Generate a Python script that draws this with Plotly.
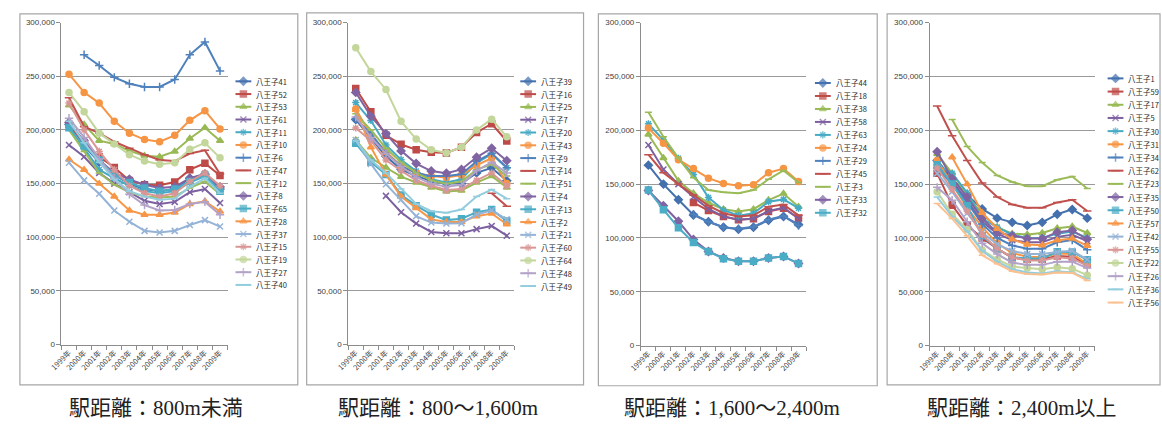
import plotly.graph_objects as go

# ---------------------------------------------------------------------------
# Data: values in thousand yen, years 1999-2009 (None = no value that year)
# ---------------------------------------------------------------------------
years = ["1999年", "2000年", "2001年", "2002年", "2003年", "2004年",
         "2005年", "2006年", "2007年", "2008年", "2009年"]

# 駅距離：800m未満
s41 = [205, 185, 170, 158, 150, 145, 143, 145, 155, 158, 145]
s52 = [205, 188, 175, 165, 153, 149, 148.5, 151.5, 163, 169, 157.5]
s53 = [223, 205, 190, 187, 180.5, 176, 175, 180, 192, 202, 190]
s61 = [186, 175, 160, 150, 142, 134, 131, 133, 142, 145, 132]
s11 = [203, 183, 163, 155, 148, 143, 141, 143, 151, 157, 143]
s10 = [252, 235, 225, 208, 197, 191, 189, 195, 209, 218, 201]
s6 = [None, 270, 260, 249, 243, 240, 240, 247, 270, 282, 255]
s47 = [230, 203, 197, 189, 183, 177, 172, 171, 178, 181, 159]
s12 = [200, 180, 160, 149, 142, 138, 137, 138, 146, 152, 140]
s8 = [207, 190, 172, 160, 154, 149, 146, 147, 155, 159, 147]
s65 = [202, 185, 172, 158, 151, 146, 143, 145, 152, 158, 143]
s28 = [172.5, 163, 150, 138, 125, 121, 121, 123, 131, 133.5, 124]
s37 = [169.5, 153, 140.5, 125, 114.5, 106, 104.5, 106, 111.5, 116, 110]
s15 = [225, 200, 180, 163, 148, 141, 138, 141, 152, 160, 148]
s19 = [235, 217, 197, 187, 177, 171, 168, 169.5, 182, 188, 174]
s27 = [211, 193, 173, 155, 140, 130, 125, 125.5, 131, 133, 121]
s40 = [208, 188, 170, 154, 143, 138, 135, 136, 147, 155, 141]

# 駅距離：800～1,600m
s39 = [209.7, 192, 175.4, 163.2, 157, 152.6, 150, 150, 160, 164.7, 152.6]
s16 = [238.6, 217, 195, 186.6, 181.5, 179.3, 178.5, 184, 197.6, 205.8, 189.7]
s25 = [190.6, 174, 165, 156.5, 151, 146.5, 142.6, 143.5, 151, 157, 146.5]
s7 = [None, None, 138.6, 123.4, 112.8, 105, 103.7, 103.7, 107.6, 110.6, 101.5]
s20 = [225.5, 208.8, 186, 172.3, 161.7, 154, 151, 154, 169.3, 177.5, 164.7]
s43 = [219.5, 195, 180, 166.3, 160, 157, 155.6, 158, 167, 173.8, 150]
s9 = [210.3, 196.6, 178.4, 166.3, 160, 157, 157, 158.7, 170.8, 178.4, 164.7]
s14 = [None, None, None, None, None, None, None, None, None, 141, 129]
s51 = [215, 200, 183, 170, 160, 153, 150, 152, 163, 168, 157]
s4 = [235, 212.8, 196.6, 180.5, 168.7, 161.7, 159.6, 163.2, 174.5, 183, 171.4]
s13 = [187.5, 170, 158.6, 139.5, 129.5, 121.3, 116, 117.3, 123.4, 125.8, 115.2]
s2 = [218.8, 184, 158.6, 138, 127.4, 116.7, 114.3, 114.3, 119.7, 122.2, 112.2]
s21 = [190.6, 168.4, 149.5, 135, 119.7, 113.7, 112.8, 113, 121.3, 125.2, 116.7]
s60 = [201.8, 190, 172, 162, 153, 148, 144, 145, 153, 160, 148]
s64 = [276.6, 254.4, 237.7, 208, 191.5, 181.5, 178.5, 184, 200, 210, 193.6]
s48 = [212, 193, 178, 166, 156, 150, 147, 149, 162, 170, 160]
s49 = [190, 172, 160, 145, 131, 124.3, 122.8, 125.8, 138, 144.5, 136]

# 駅距離：1,600～2,400m
s44 = [167.6, 150, 135.5, 121.3, 115, 110, 108, 110, 116.4, 120, 112.5]
s18 = [None, None, None, 132.9, 125.4, 120, 117, 117.9, 124.6, 127.6, 118.5]
s38 = [196, 174.2, 153, 141.5, 132.7, 126.7, 124.6, 126.7, 135.2, 141.2, 129]
s58 = [186.4, 163.6, 150, 138, 127, 120, 117, 118, 125, 128, 118]
s63 = [206, 191, 174, 159, 137.6, 126, 120.7, 123, 133.6, 135.8, 127.6]
s24 = [202, 188, 172.7, 164.5, 155.5, 150.6, 148.5, 149.4, 160.6, 164.5, 152.4]
s29 = [None, None, None, 122, 115, 110, 108.5, 110.5, 117, 120.5, 111.5]
s45 = [177.3, 160.6, 150, 140, 130, 123, 120, 121, 129, 131, 121]
s3 = [216.7, 194, 174.2, 156, 144.5, 142.4, 141.5, 144.5, 154.5, 162.7, 151.5]
s33 = [144, 130, 115.5, 98.5, 87.4, 81.4, 78.4, 78.4, 81.4, 82.8, 76.2]
s32 = [144.5, 126.2, 109.5, 95.8, 87.4, 80.8, 78.4, 78.4, 81.4, 82.8, 76.2]

# 駅距離：2,400m以上
s1 = [172, 155, 140, 127, 118.4, 114.5, 111.5, 114.5, 122, 126.5, 118.4]
s59 = [160, 130.3, 111.5, 100, 90, 81.5, 80.3, 80.3, 83.2, 82.6, 75.7]
s17 = [178, 160, 140, 122, 110, 104, 103.3, 104.6, 109, 110.6, 104.6]
s5 = [170, 152, 135, 115, 104, 98, 96, 96, 101, 103, 97]
s30 = [168, 160, 142, 118, 110, 103, 100, 100, 104, 106, 100]
s31 = [172, 150, 128, 110, 95, 86, 82.6, 82, 85.6, 85, 76]
s34 = [165, 150, 133, 113, 100, 93, 90, 90, 96, 98, 89]
s62 = [222.5, 195, 172, 151, 138, 131, 128, 128, 133, 135.5, 125]
s23 = [None, 210, 185, 170, 158, 152, 148, 148, 154, 157, 146]
s35 = [180, 155, 138, 118, 105, 102, 99.4, 99.4, 105.4, 107, 98.8]
s50 = [168, 150, 130, 102, 90, 82, 81, 81, 87.2, 87, 79.7]
s57 = [None, 175, 150, 123.4, 108.5, 98.8, 93.9, 93.3, 97.9, 99.4, 92.7]
s42 = [160, 143, 123, 105, 94, 88, 85, 85, 87, 88, 80]
s55 = [165, 145, 125, 103, 90, 82, 79, 79, 82, 81, 74]
s22 = [143, 122, 108, 88.7, 80, 73.5, 72, 71, 72.7, 71.5, 65.4]
s26 = [147, 135, 115, 95, 85, 77, 75, 75, 78, 78, 72]
s36 = [138, 120, 106, 88, 78, 71, 68, 67, 69, 68, 62]
s56 = [132, 118, 102, 84, 76, 69, 66.5, 66, 68, 67.5, 60.5]

panel_titles = ["駅距離：800m未満", "駅距離：800～1,600m",
                "駅距離：1,600～2,400m", "駅距離：2,400m以上"]

panel_series = [
    [("八王子41", s41), ("八王子52", s52), ("八王子53", s53), ("八王子61", s61),
     ("八王子11", s11), ("八王子10", s10), ("八王子6", s6), ("八王子47", s47),
     ("八王子12", s12), ("八王子8", s8), ("八王子65", s65), ("八王子28", s28),
     ("八王子37", s37), ("八王子15", s15), ("八王子19", s19), ("八王子27", s27),
     ("八王子40", s40)],
    [("八王子39", s39), ("八王子16", s16), ("八王子25", s25), ("八王子7", s7),
     ("八王子20", s20), ("八王子43", s43), ("八王子9", s9), ("八王子14", s14),
     ("八王子51", s51), ("八王子4", s4), ("八王子13", s13), ("八王子2", s2),
     ("八王子21", s21), ("八王子60", s60), ("八王子64", s64), ("八王子48", s48),
     ("八王子49", s49)],
    [("八王子44", s44), ("八王子18", s18), ("八王子38", s38), ("八王子58", s58),
     ("八王子63", s63), ("八王子24", s24), ("八王子29", s29), ("八王子45", s45),
     ("八王子3", s3), ("八王子33", s33), ("八王子32", s32)],
    [("八王子1", s1), ("八王子59", s59), ("八王子17", s17), ("八王子5", s5),
     ("八王子30", s30), ("八王子31", s31), ("八王子34", s34), ("八王子62", s62),
     ("八王子23", s23), ("八王子35", s35), ("八王子50", s50), ("八王子57", s57),
     ("八王子42", s42), ("八王子55", s55), ("八王子22", s22), ("八王子26", s26),
     ("八王子36", s36), ("八王子56", s56)],
]

# ---------------------------------------------------------------------------
# Styling (spreadsheet-style automatic series colours and markers)
# ---------------------------------------------------------------------------
STYLES = [
    ("#4470AE", "diamond", 6),
    ("#BE4B48", "square", 6),
    ("#98B954", "triangle-up", 6),
    ("#7D60A0", "x-thin-open", 6),
    ("#46AAC5", "asterisk-open", 6),
    ("#F69544", "circle", 6),
    ("#4F81BD", "cross-thin-open", 6),
    ("#C0504D", "line-ew-open", 6),
    ("#9BBB59", "line-ew-open", 5),
    ("#8064A2", "diamond", 6),
    ("#4BACC6", "square", 6),
    ("#F79646", "triangle-up", 6),
    ("#95B3D7", "x-thin-open", 6),
    ("#D99694", "asterisk-open", 6),
    ("#C3D69B", "circle", 6),
    ("#B3A2C7", "cross-thin-open", 6),
    ("#93CDDD", "line-ew-open", 5),
    ("#FAC090", "line-ew-open", 5),
]

W, H = 1162, 426
GRID = "#9A9A9A"
AXIS = "#8C8C8C"
BORDER = "#A6A6A6"

# plot-area and frame geometry for each panel, in page pixels
PANELS = [
    dict(left=49, right=217, top=19, bottom=348, box=(7, 10, 288, 389),
         lx=225, ly=79, ldy=13.0, tx=145),
    dict(left=339, right=507, top=19, bottom=348, box=(297, 9, 577, 389),
         lx=513, ly=79, ldy=13.07, tx=430),
    dict(left=635, right=802, top=19, bottom=349, box=(592, 10, 874, 390),
         lx=811, ly=80.7, ldy=13.26, tx=727),
    dict(left=927, right=1094, top=19, bottom=349, box=(884, 10, 1160, 389),
         lx=1107, ly=76, ldy=13.47, tx=1020),
]


def px_x(x):
    return x / W


def px_y(y):
    return 1 - y / H


fig = go.Figure()
layout = dict(width=W, height=H, margin=dict(l=0, r=0, t=0, b=0),
              autosize=False, paper_bgcolor="white",
              plot_bgcolor="rgba(0,0,0,0)",
              showlegend=False, shapes=[], annotations=[])

for i, (geo, series) in enumerate(zip(PANELS, panel_series)):
    n = i + 1
    xa = "x" if n == 1 else f"x{n}"
    ya = "y" if n == 1 else f"y{n}"
    for k, (name, vals) in enumerate(series):
        color, symbol, msize = STYLES[k]
        yv = [None if v is None else v * 1000 for v in vals]
        fig.add_trace(go.Scatter(
            x=years, y=yv, name=name, mode="lines+markers",
            xaxis=xa, yaxis=ya, connectgaps=False,
            line=dict(color=color, width=2),
            marker=dict(symbol=symbol, size=msize, color=color,
                        line=dict(color=color, width=1.5)),
            hovertemplate="%{x}: %{y:,}<extra>" + name + "</extra>"))

    xdom = [px_x(geo["left"]), px_x(geo["right"])]
    ydom = [px_y(geo["bottom"]), px_y(geo["top"])]
    layout["xaxis" if n == 1 else f"xaxis{n}"] = dict(
        domain=xdom, anchor=ya, type="category", categoryorder="array",
        categoryarray=years, range=[-0.5, len(years) - 0.5],
        tickson="boundaries", ticks="outside", ticklen=4, tickcolor=AXIS,
        showline=True, linecolor=AXIS, linewidth=1, showgrid=False,
        tickangle=-45, fixedrange=True,
        tickfont=dict(size=7.5, color="#404040", family="Noto Sans CJK JP"))
    layout["yaxis" if n == 1 else f"yaxis{n}"] = dict(
        domain=ydom, anchor=xa, range=[0, 300000],
        tickvals=[0, 50000, 100000, 150000, 200000, 250000, 300000],
        tickformat=",", ticks="outside", ticklen=4, tickcolor=AXIS,
        showline=True, linecolor=AXIS, linewidth=1, showgrid=True,
        gridcolor=GRID, gridwidth=1, zeroline=False, fixedrange=True,
        tickfont=dict(size=8, color="#404040", family="Liberation Sans"))

    # chart frame
    x0, y0, x1, y1 = geo["box"]
    layout["shapes"].append(dict(
        type="rect", xref="paper", yref="paper",
        x0=px_x(x0), x1=px_x(x1), y0=px_y(y1), y1=px_y(y0),
        line=dict(color=BORDER, width=1.2), fillcolor="rgba(0,0,0,0)",
        layer="below"))

    # caption under the chart
    layout["annotations"].append(dict(
        text=panel_titles[i], xref="paper", yref="paper",
        x=px_x(geo["tx"]), y=px_y(413), xanchor="center", yanchor="middle",
        showarrow=False,
        font=dict(size=21, color="#222222",
                  family="Liberation Serif, Noto Sans CJK JP")))

    # legend: sample line + marker drawn on a page-pixel overlay axis
    for k, (name, vals) in enumerate(series):
        color, symbol, msize = STYLES[k]
        yy = geo["ly"] + k * geo["ldy"]
        lx = geo["lx"]
        fig.add_trace(go.Scatter(
            x=[lx, lx + 8, lx + 16], y=[yy, yy, yy], mode="lines+markers",
            xaxis="x5", yaxis="y5", hoverinfo="skip", showlegend=False,
            line=dict(color=color, width=2),
            marker=dict(symbol=symbol, size=[0, msize, 0], color=color,
                        line=dict(color=color, width=1.5))))
        layout["annotations"].append(dict(
            text=name, xref="paper", yref="paper",
            x=px_x(lx + 19), y=px_y(yy), xanchor="left", yanchor="middle",
            showarrow=False,
            font=dict(size=7.5, color="#262626", family="Noto Sans CJK JP")))

layout["xaxis5"] = dict(domain=[0, 1], anchor="y5", range=[0, W],
                        visible=False, fixedrange=True)
layout["yaxis5"] = dict(domain=[0, 1], anchor="x5", range=[H, 0],
                        visible=False, fixedrange=True)

fig.update_layout(**layout)
fig.write_html("out.html")
